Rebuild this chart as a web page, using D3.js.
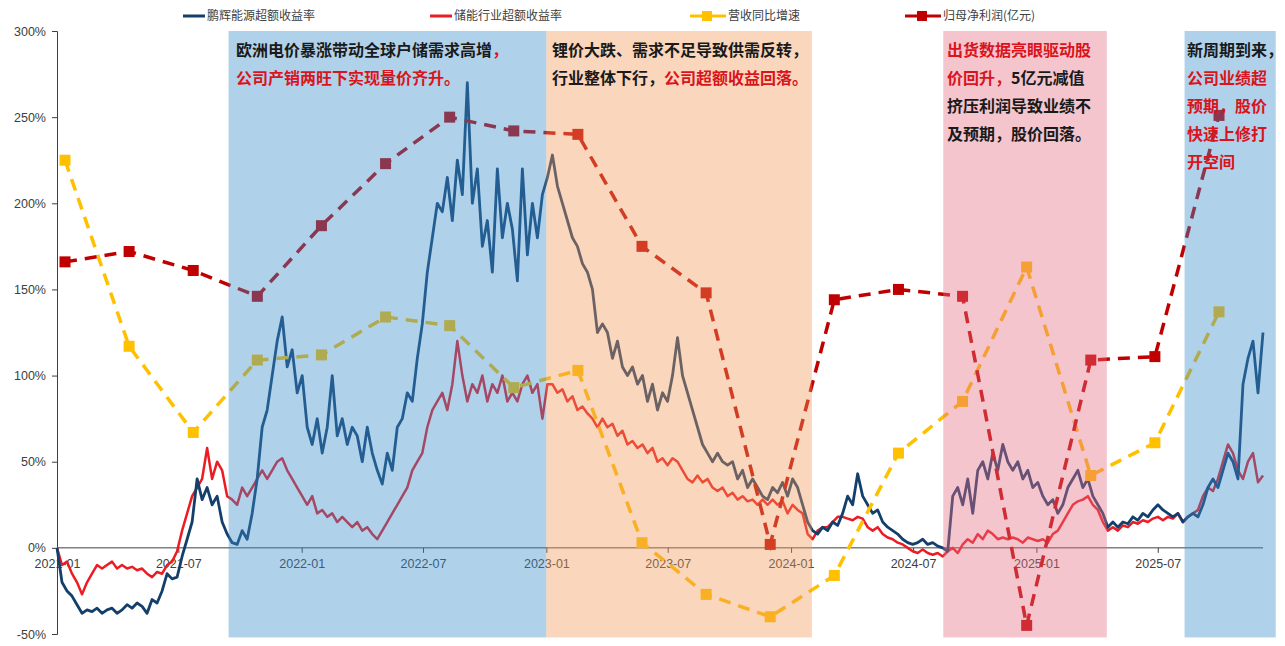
<!DOCTYPE html>
<html lang="zh">
<head>
<meta charset="utf-8">
<title>鹏辉能源超额收益</title>
<script src="https://cdnjs.cloudflare.com/ajax/libs/d3/7.8.5/d3.min.js"></script>
<style>
    body { margin: 0; background: #fff; }
    svg { display: block; font-family: "Noto Sans CJK SC", "Noto Sans", sans-serif; }
    .axis path, .axis line { stroke: #404040; }
    .axis text { fill: #404040; font-size: 12.5px; }
    .legend text { fill: #404040; font-size: 12px; }
    .note { font-size: 16px; font-weight: bold; }
</style>
</head>
<body>
<svg id="chart" width="1285" height="646"></svg>
<script>
// weekly samples of the two excess-return series (%), 2021-01-01 .. 2025-12-05
var seriesStart = "2021-01-01", seriesEnd = "2025-12-05";

var phVals = [0,-20,-25,-28,-33,-38,-36,-37,-35,-38,-36,-35,-38,-36,-33,-35,-32,-34,-38,-30,
    -32,-25,-15,-18,-17,-5,5,15,40,28,35,25,30,15,8,3,2,10,5,20,
    40,70,80,100,120,134,105,115,90,100,70,60,75,55,70,100,65,75,60,70,
    65,50,70,55,45,37,55,45,70,75,90,85,110,130,160,180,200,195,215,190,
    225,205,270,200,220,175,190,160,220,180,200,185,155,220,170,200,180,205,215,228,
    210,200,190,180,175,165,160,150,125,130,125,110,120,105,100,105,95,100,85,95,
    80,90,85,100,122,100,90,80,70,60,55,50,55,50,48,50,40,45,35,40,
    35,30,28,35,32,38,30,40,35,25,15,10,8,12,10,15,13,20,30,25,
    43,30,25,20,22,15,12,10,8,5,3,2,3,5,2,3,1,0,-2,30,
    35,25,40,20,45,50,40,55,45,60,50,45,50,40,45,35,38,30,25,28,
    20,25,35,40,45,35,40,30,25,20,12,15,12,15,14,18,16,20,18,22,
    25,22,20,18,20,15,18,20,18,25,35,40,35,45,55,50,40,95,110,120,
    90,125];

var esVals = [0,-10,-8,-15,-20,-27,-20,-15,-10,-12,-10,-8,-12,-10,-12,-11,-13,-12,-15,-17,
    -14,-15,-10,-8,-2,10,20,30,35,40,58,40,50,45,30,28,25,35,30,35,
    40,45,40,45,50,52,45,40,35,30,25,30,20,22,18,20,15,18,15,12,
    15,10,12,8,5,10,15,20,25,30,35,45,50,55,70,80,85,90,80,95,
    120,100,85,95,90,100,85,95,90,100,85,90,85,95,100,90,95,75,95,95,
    90,92,85,88,80,82,78,75,70,75,70,72,65,68,60,62,58,60,55,58,
    50,52,48,52,50,45,40,38,42,38,40,35,33,35,30,32,28,30,27,28,
    25,28,25,28,25,27,20,25,22,20,8,5,10,12,12,15,18,18,17,16,
    18,17,12,10,12,8,6,5,3,2,0,-2,-3,-1,-3,-4,-3,-5,-2,0,
    -3,2,5,3,8,5,10,8,5,6,5,6,5,3,6,5,4,5,3,8,
    10,15,20,25,27,28,30,25,22,15,10,12,10,13,12,15,14,16,15,17,
    18,16,18,17,20,15,18,20,22,30,35,33,40,50,60,55,45,40,50,55,
    38,42];

// quarterly series
var quarters = ["2021Q1","2021Q2","2021Q3","2021Q4","2022Q1","2022Q2","2022Q3","2022Q4",
    "2023Q1","2023Q2","2023Q3","2023Q4","2024Q1","2024Q2","2024Q3","2024Q4",
    "2025Q1","2025Q2","2025Q3"];
var revenueGrowth = [225,117,67,109,112,134,129,93,103,3,-27,-40,-16,55,85,163,42,61,137];
var netProfit = [166,172,161,146,187,223,250,242,240,175,148,2,144,150,146,-45,109,111,251];

var yTicks = [-50,0,50,100,150,200,250,300];

var phases = [
    {from: "2021-09-14", to: "2023-01-01", color: "#398cca"},
    {from: "2023-01-01", to: "2024-02-01", color: "#f09857"},
    {from: "2024-08-15", to: "2025-04-16", color: "#e66e82"},
    {from: "2025-08-10", to: "2025-12-24", color: "#398cca"}
];

var svg = d3.select("#chart");
var parse = d3.timeParse("%Y-%m-%d");

var x = d3.scaleTime().domain([parse("2021-01-01"), parse("2025-12-05")]).range([57, 1263]);
var y = d3.scaleLinear().domain([-50, 300]).range([634, 31]);
var xq = d3.scalePoint().domain(quarters).range([65, 1219]);

function sampleDates(n) {
    var t = d3.scaleLinear().domain([0, n - 1])
        .range([parse(seriesStart).getTime(), parse(seriesEnd).getTime()]);
    return d3.range(n).map(function(i) { return new Date(t(i)); });
}

// axes
svg.append("g")
    .attr("class", "axis")
    .attr("transform", "translate(57,0)")
    .call(d3.axisLeft(y).tickValues(yTicks).tickSize(5).tickPadding(6).tickFormat(function(d) { return d + "%"; }));

svg.append("g")
    .attr("class", "axis")
    .attr("transform", "translate(0," + y(0) + ")")
    .call(d3.axisBottom(x).ticks(d3.timeMonth.every(6)).tickSize(5).tickPadding(6).tickFormat(d3.timeFormat("%Y-%m")))
    .select(".domain").attr("d", "M57,0H1263");

// daily-ish lines
var line = d3.line().x(function(d) { return x(d[0]); }).y(function(d) { return y(d[1]); });

var esDates = sampleDates(esVals.length);
svg.append("path")
    .datum(esVals.map(function(v, i) { return [esDates[i], v]; }))
    .attr("d", line)
    .attr("fill", "none")
    .attr("stroke", "#ec1c24")
    .attr("stroke-width", 2.5)
    .attr("stroke-linejoin", "round");

var phDates = sampleDates(phVals.length);
svg.append("path")
    .datum(phVals.map(function(v, i) { return [phDates[i], v]; }))
    .attr("d", line)
    .attr("fill", "none")
    .attr("stroke", "#143f6b")
    .attr("stroke-width", 2.8)
    .attr("stroke-linejoin", "round");

// quarterly dashed lines with square markers
function dashed(vals, color) {
    var ql = d3.line().x(function(d, i) { return xq(quarters[i]); }).y(function(d) { return y(d); });
    svg.append("path")
        .datum(vals)
        .attr("d", ql)
        .attr("fill", "none")
        .attr("stroke", color)
        .attr("stroke-width", 3.5)
        .attr("stroke-dasharray", "12,8");
    svg.append("g").selectAll("rect")
        .data(vals)
        .enter()
        .append("rect")
        .attr("x", function(d, i) { return xq(quarters[i]) - 5.5; })
        .attr("y", function(d) { return y(d) - 5.5; })
        .attr("width", 11)
        .attr("height", 11)
        .attr("fill", color);
}
dashed(revenueGrowth, "#ffc000");
dashed(netProfit, "#c00000");

// phase shading, laid over the series
svg.append("g").selectAll("rect")
    .data(phases)
    .enter()
    .append("rect")
    .attr("x", function(d) { return x(parse(d.from)); })
    .attr("width", function(d) { return x(parse(d.to)) - x(parse(d.from)); })
    .attr("y", y(300))
    .attr("height", y(-52) - y(300))
    .attr("fill", function(d) { return d.color; })
    .attr("fill-opacity", 0.4);

// annotations
var BLK = "#1a1a1a", RED = "#d9141c";
var notes = [
    {x: 236, lines: [[["欧洲电价暴涨带动全球户储需求高增", BLK], ["，", RED]],
                     [["公司产销两旺下实现量价齐升。", RED]]]},
    {x: 552, lines: [[["锂价大跌、需求不足导致供需反转，", BLK]],
                     [["行业整体下行，", BLK], ["公司超额收益回落。", RED]]]},
    {x: 947, lines: [[["出货数据亮眼驱动股", RED]],
                     [["价回升，", RED], ["5亿元减值", BLK]],
                     [["挤压利润导致业绩不", BLK]],
                     [["及预期，股价回落。", BLK]]]},
    {x: 1187, lines: [[["新周期到来，", BLK]],
                      [["公司业绩超", RED]],
                      [["预期，股价", RED]],
                      [["快速上修打", RED]],
                      [["开空间", RED]]]}
];
notes.forEach(function(n) {
    n.lines.forEach(function(parts, li) {
        var t = svg.append("text").attr("class", "note").attr("x", n.x).attr("y", 56 + li * 28);
        parts.forEach(function(p) { t.append("tspan").attr("fill", p[1]).text(p[0]); });
    });
});

// legend
var legend = [
    {x: 183, label: "鹏辉能源超额收益率", color: "#143f6b", marker: false},
    {x: 430, label: "储能行业超额收益率", color: "#ec1c24", marker: false},
    {x: 690, label: "营收同比增速", color: "#ffc000", marker: true},
    {x: 905, label: "归母净利润(亿元)", color: "#c00000", marker: true}
];
var lg = svg.append("g").attr("class", "legend");
legend.forEach(function(d) {
    if (d.marker) {
        lg.append("line").attr("x1", d.x).attr("x2", d.x + 36).attr("y1", 16).attr("y2", 16)
            .attr("stroke", d.color).attr("stroke-width", 3).attr("stroke-dasharray", "14,4,18");
        lg.append("rect").attr("x", d.x + 12).attr("y", 11).attr("width", 10).attr("height", 10).attr("fill", d.color);
        lg.append("text").attr("x", d.x + 38).attr("y", 20).text(d.label);
    } else {
        lg.append("line").attr("x1", d.x).attr("x2", d.x + 22).attr("y1", 16).attr("y2", 16)
            .attr("stroke", d.color).attr("stroke-width", 3);
        lg.append("text").attr("x", d.x + 24).attr("y", 20).text(d.label);
    }
});
</script>
</body>
</html>
